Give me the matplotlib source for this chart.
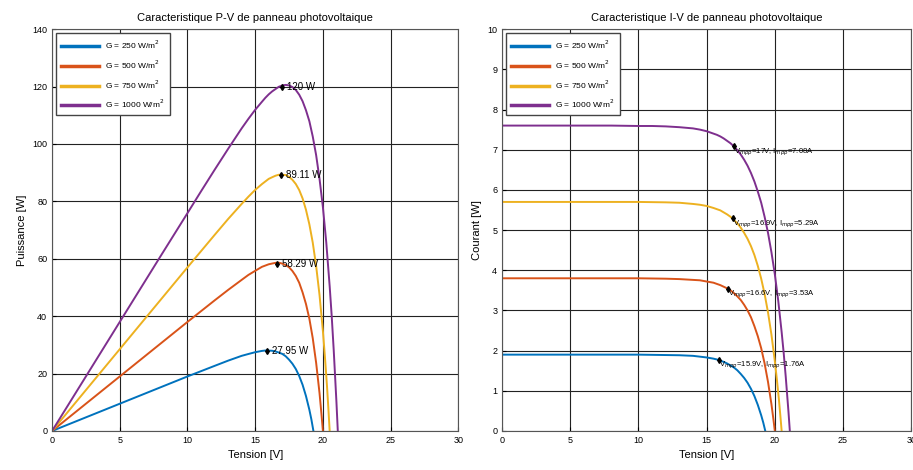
import matplotlib
matplotlib.use("Agg")
import matplotlib.pyplot as plt
import numpy as np

plt.rcParams['font.family'] = ['Liberation Sans', 'DejaVu Sans']

# I-V curves (V in volts, I in amps)
v_250 = [0, 4, 8, 10, 12, 13, 14, 14.5, 15, 15.5, 15.75, 16, 16.25, 16.5, 16.75, 17, 17.25, 17.5,
         17.75, 18, 18.25, 18.5, 18.75, 19, 19.15, 19.3]
i_250 = [1.9, 1.9, 1.9, 1.9, 1.89, 1.885, 1.87, 1.85, 1.83, 1.80, 1.78, 1.75, 1.72, 1.68, 1.63, 1.58, 1.51, 1.42,
         1.32, 1.20, 1.05, 0.87, 0.65, 0.39, 0.21, 0]

v_500 = [0, 4, 8, 10, 12, 13, 14, 14.5, 15, 15.5, 16, 16.25, 16.5, 16.75, 17, 17.25, 17.5, 17.75, 18,
         18.25, 18.5, 18.75, 19, 19.25, 19.5, 19.75, 19.9, 20.0]
i_500 = [3.8, 3.8, 3.8, 3.8, 3.79, 3.78, 3.76, 3.75, 3.72, 3.69, 3.63, 3.59, 3.55, 3.50, 3.43, 3.35, 3.26, 3.14, 3.00,
         2.83, 2.61, 2.36, 2.06, 1.68, 1.22, 0.67, 0.28, 0]

v_750 = [0, 4, 8, 10, 12, 13, 14, 14.5, 15, 15.5, 16, 16.25, 16.5, 16.75, 17, 17.25, 17.5, 17.75, 18,
         18.25, 18.5, 18.75, 19, 19.25, 19.5, 19.75, 20, 20.15, 20.3, 20.4, 20.5]
i_750 = [5.7, 5.7, 5.7, 5.70, 5.69, 5.68, 5.65, 5.63, 5.60, 5.55, 5.49, 5.44, 5.39, 5.33, 5.25, 5.17, 5.06, 4.93, 4.78,
         4.60, 4.38, 4.11, 3.79, 3.41, 2.95, 2.40, 1.74, 1.28, 0.78, 0.40, 0]

v_1000 = [0, 4, 8, 10, 11, 12, 13, 14, 14.5, 15, 15.5, 15.75, 16, 16.25, 16.5, 16.75, 17, 17.25, 17.5,
          17.75, 18, 18.25, 18.5, 18.75, 19, 19.25, 19.5, 19.75, 20, 20.25, 20.5, 20.65, 20.8, 21.0, 21.1]
i_1000 = [7.6, 7.6, 7.6, 7.59, 7.59, 7.58, 7.56, 7.53, 7.50, 7.46, 7.40, 7.37, 7.33, 7.28, 7.22, 7.16, 7.08, 6.99, 6.88,
          6.75, 6.60, 6.42, 6.21, 5.96, 5.68, 5.33, 4.93, 4.45, 3.90, 3.24, 2.46, 1.94, 1.35, 0.48, 0]

labels = ["G = 250 W/m$^2$", "G = 500 W/m$^2$", "G = 750 W/m$^2$", "G = 1000 W/m$^2$"]
colors = ["#0072BD", "#D95319", "#EDB120", "#7E2F8E"]

# maximum power points
v_mpp = [15.9, 16.6, 16.9, 17.0]
i_mpp = [1.76, 3.53, 5.29, 7.08]
p_mpp = [27.95, 58.29, 89.11, 120]
p_text = ["27.95 W", "58.29 W", "89.11 W", "120 W"]
iv_text = ["V$_{mpp}$=15.9V, I$_{mpp}$=1.76A", "V$_{mpp}$=16.6V, I$_{mpp}$=3.53A",
           "V$_{mpp}$=16.9V, I$_{mpp}$=5.29A", "V$_{mpp}$=17V, I$_{mpp}$=7.08A"]

curves = [(v_250, i_250), (v_500, i_500), (v_750, i_750), (v_1000, i_1000)]

fig = plt.figure(figsize=(9.13, 4.70), dpi=100)
ax1 = fig.add_axes([0.057, 0.083, 0.445, 0.855])
ax2 = fig.add_axes([0.550, 0.083, 0.448, 0.855])

for (v, i), lab, c in zip(curves, labels, colors):
    v = np.array(v)
    i = np.array(i)
    ax1.plot(v, v * i, color=c, lw=1.4, label=lab)
    ax2.plot(v, i, color=c, lw=1.4, label=lab)

for k in range(4):
    ax1.plot(v_mpp[k], p_mpp[k], 'kd', ms=3)
    ax1.text(v_mpp[k] + 0.35, p_mpp[k], p_text[k], fontsize=7, va='center', ha='left')
    ax2.plot(v_mpp[k], i_mpp[k], 'kd', ms=3)
    ax2.text(v_mpp[k], i_mpp[k], iv_text[k], fontsize=5.5, va='top', ha='left')

for ax in (ax1, ax2):
    ax.set_xlim(0, 30)
    ax.set_xticks(range(0, 31, 5))
    ax.grid(True, color='#222222', lw=0.8)
    ax.tick_params(labelsize=6.5, length=3, direction='in')
    ax.set_xlabel("Tension [V]", fontsize=8)
    for s in ax.spines.values():
        s.set_color('#555555')
    leg = ax.legend(loc='upper left', fontsize=6, handlelength=4.5, fancybox=False,
                    edgecolor='#444444', framealpha=1, borderpad=0.6, labelspacing=0.9)
    for l in leg.get_lines():
        l.set_linewidth(2.5)

ax1.set_ylim(0, 140)
ax1.set_yticks(range(0, 141, 20))
ax1.set_ylabel("Puissance [W]", fontsize=8)
ax1.set_title("Caracteristique P-V de panneau photovoltaique", fontsize=8)

ax2.set_ylim(0, 10)
ax2.set_yticks(range(0, 11))
ax2.set_ylabel("Courant [W]", fontsize=8)
ax2.set_title("Caracteristique I-V de panneau photovoltaique", fontsize=8)

fig.savefig("out.png", dpi=100)
